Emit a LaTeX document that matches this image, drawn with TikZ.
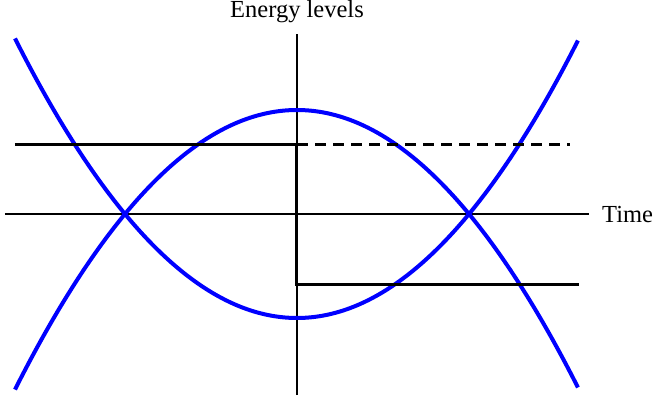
\documentclass[tikz,border=0pt]{standalone}
\usepackage{fontspec}
\setmainfont{Liberation Serif}
\definecolor{curve}{HTML}{0000FF}
\usetikzlibrary{positioning}
\tikzset{
  axis_line/.style={draw=black,line width=1.5pt},
  curve_line/.style={draw=curve,line width=4pt,smooth,samples=80},
  level_line/.style={draw=black,line width=3pt},
  level_dash/.style={level_line,dash pattern=on 11pt off 7pt},
  axis_label/.style={font=\fontsize{24.5}{29}\selectfont,inner sep=0pt},
}

\begin{document}
\begin{tikzpicture}[x=1pt,y=1pt]
    \useasboundingbox (-297,-185) rectangle (356,214);
    % axes
    \coordinate (tl) at (-292,0); \coordinate (tr) at (292,0);
    \coordinate (et) at (0,180); \coordinate (eb) at (0,-181);
    \draw[axis_line](tl)--(tr);\draw[axis_line](eb)--(et);
    \node[axis_label,anchor=west] (time) at (305,-1) {Time};
    \node[axis_label] (energy) at (0,202) {Energy levels};
    % energy curves
    \draw[curve_line,domain=-2.82:2.81] plot ({100*\x},{-104+35.15*\x*\x});
    \draw[curve_line,domain=-2.82:2.81] plot ({100*\x},{104-35.15*\x*\x});
    % levels
    \coordinate (ul) at (-282,69); \coordinate (um) at (0,69); \coordinate (ur) at (273,69);
    \coordinate (lm) at (0,-70); \coordinate (lr) at (282,-70);
    \draw[level_dash](um)--(ur);
    \draw[level_line](ul)--(um)--(lm)--(lr);
  \end{tikzpicture}
\end{document}
